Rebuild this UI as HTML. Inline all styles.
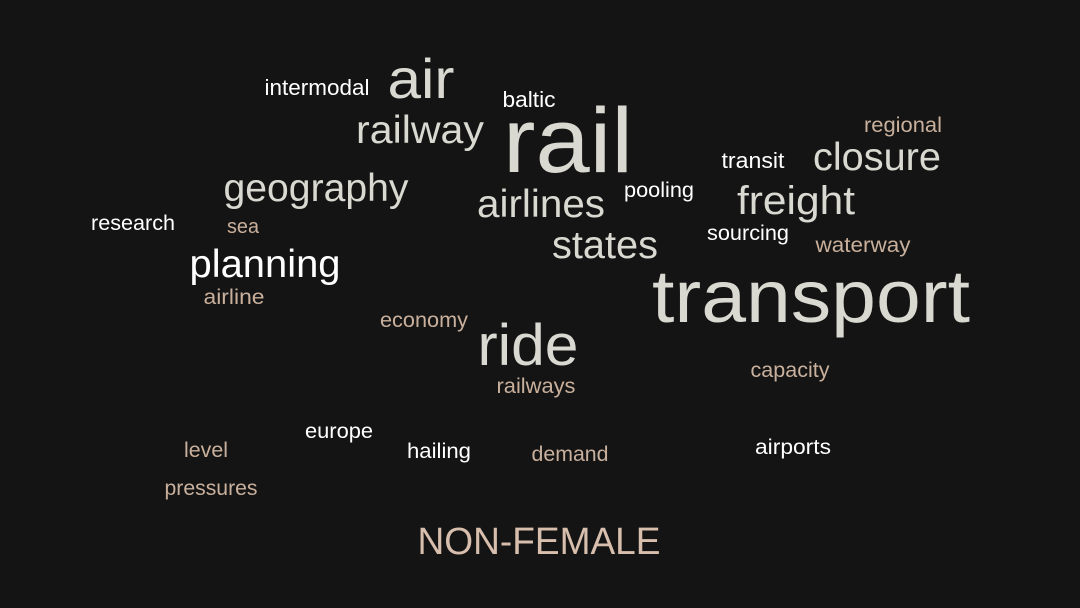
<!DOCTYPE html>
<html><head><meta charset="utf-8">
<style>
html,body{margin:0;padding:0;background:#141414;}
svg{display:block;}
text{font-family:"Liberation Sans",sans-serif;}
</style></head>
<body>
<svg id="cloud" width="1080" height="608" viewBox="0 0 1080 608">
<rect width="1080" height="608" fill="#141414"/>
</svg>
<script>
const words = ["intermodal","air","baltic","railway","rail","regional","transit","closure","geography","airlines","pooling","freight","research","sea","states","sourcing","waterway","planning","airline","transport","economy","ride","railways","capacity","europe","level","hailing","demand","airports","pressures","NON-FEMALE"];
const centerX = [317,421,529,420,568,903,753,877,316,541,659,796,133,243,605,748,863,265,234,811,424,528,536,790,339,206,439,570,793,211,539];
const baseline = [95,98,107,143,172,132,168,170,201,217,197,214,230,233,258,240,252,277,304,322,327,365,393,377,438,457,458,461,454,495,554];
const widths = [105,67,53,128,130,78,63,128,185,128,70,118,84,32,106,82,95,151,61,318,88,101,79,79,68,44,64,77,76,93,243];
const sizes = [22,56,22,39,92,21,22,39,39,39,21,40,21,20,39,21,21,39,21,74,21,58,21,21,21,21,21,21,21,21,38];
const colors = ["#ffffff","#d9d9d1","#ffffff","#d9d9d1","#d9d9d1","#c9b09c","#ffffff","#d9d9d1","#d9d9d1","#d9d9d1","#ffffff","#d9d9d1","#ffffff","#c9b09c","#d9d9d1","#ffffff","#c9b09c","#ffffff","#c9b09c","#d9d9d1","#c9b09c","#d9d9d1","#c9b09c","#c9b09c","#ffffff","#c9b09c","#ffffff","#c9b09c","#ffffff","#c9b09c","#d8bfad"];
const svg = document.getElementById('cloud');
const NS = "http://www.w3.org/2000/svg";
words.forEach((w,i)=>{
  const t = document.createElementNS(NS,'text');
  t.setAttribute('x', centerX[i] - widths[i]/2);
  t.setAttribute('y', baseline[i]);
  t.setAttribute('font-size', sizes[i]);
  t.setAttribute('fill', colors[i]);
  t.setAttribute('textLength', widths[i]);
  t.setAttribute('lengthAdjust', 'spacingAndGlyphs');
  t.textContent = w;
  
  
  svg.appendChild(t);
});
</script>
</body></html>
